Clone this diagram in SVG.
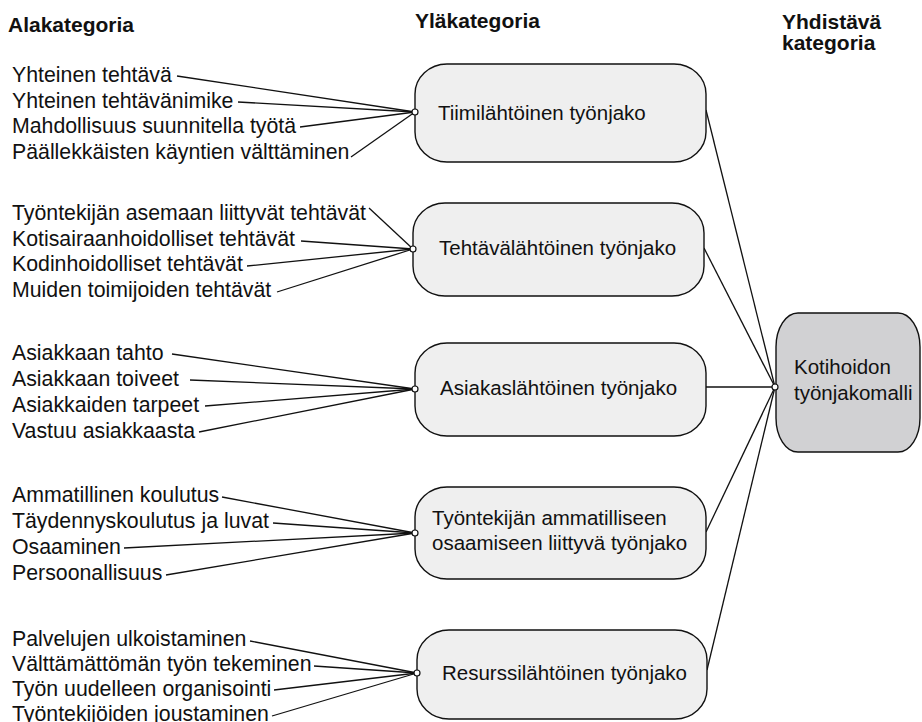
<svg xmlns="http://www.w3.org/2000/svg" width="922" height="722" viewBox="0 0 922 722">
<style>
text{font-family:"Liberation Sans",Arial,sans-serif;font-size:20.5px;fill:#111}
#items text{font-size:21.3px}
.h{font-weight:bold;font-size:21px}
.n{fill:#efefef;stroke:#111;stroke-width:1.4}
.m{fill:#d1d1d3;stroke:#111;stroke-width:1.4}
.c line{stroke:#111;stroke-width:1.3}
.d{fill:#fff;stroke:#111;stroke-width:1.2}
</style>
<rect width="922" height="722" fill="#fff"/>
<g id="headers">
<text class="h" x="8" y="32">Alakategoria</text>
<text class="h" x="415" y="28">Yläkategoria</text>
<text class="h" x="782" y="29">Yhdistävä</text>
<text class="h" x="782" y="50">kategoria</text>
</g>
<g class="c" id="connectors">
<line x1="177" y1="76" x2="415" y2="112"/>
<line x1="238" y1="102" x2="415" y2="112"/>
<line x1="300" y1="127" x2="415" y2="112"/>
<line x1="351" y1="157" x2="415" y2="112"/>
<line x1="369" y1="208" x2="413" y2="249"/>
<line x1="301" y1="241" x2="413" y2="249"/>
<line x1="247" y1="266" x2="413" y2="249"/>
<line x1="277" y1="292" x2="413" y2="249"/>
<line x1="172" y1="354" x2="415" y2="389"/>
<line x1="190" y1="380" x2="415" y2="389"/>
<line x1="205" y1="406" x2="415" y2="389"/>
<line x1="199" y1="432" x2="415" y2="389"/>
<line x1="222" y1="497" x2="415" y2="533"/>
<line x1="273" y1="523" x2="415" y2="533"/>
<line x1="124" y1="548" x2="415" y2="533"/>
<line x1="166" y1="575" x2="415" y2="533"/>
<line x1="250" y1="641" x2="417" y2="673"/>
<line x1="314" y1="666" x2="417" y2="673"/>
<line x1="274" y1="690" x2="417" y2="673"/>
<line x1="272" y1="716" x2="417" y2="673"/>
<line x1="706" y1="110" x2="775" y2="387"/>
<line x1="704" y1="248" x2="775" y2="387"/>
<line x1="706" y1="387" x2="775" y2="387"/>
<line x1="706" y1="532" x2="775" y2="387"/>
<line x1="707" y1="670" x2="775" y2="387"/>
</g>
<g id="items">
<text x="12" y="82">Yhteinen tehtävä</text>
<text x="12" y="108">Yhteinen tehtävänimike</text>
<text x="12" y="133">Mahdollisuus suunnitella työtä</text>
<text x="12" y="159">Päällekkäisten käyntien välttäminen</text>
<text x="12" y="220">Työntekijän asemaan liittyvät tehtävät</text>
<text x="12" y="246">Kotisairaanhoidolliset tehtävät</text>
<text x="12" y="271">Kodinhoidolliset tehtävät</text>
<text x="12" y="297">Muiden toimijoiden tehtävät</text>
<text x="12" y="360">Asiakkaan tahto</text>
<text x="12" y="386">Asiakkaan toiveet</text>
<text x="12" y="412">Asiakkaiden tarpeet</text>
<text x="12" y="438">Vastuu asiakkaasta</text>
<text x="12" y="502">Ammatillinen koulutus</text>
<text x="12" y="528">Täydennyskoulutus ja luvat</text>
<text x="12" y="554">Osaaminen</text>
<text x="12" y="580">Persoonallisuus</text>
<text x="12" y="646">Palvelujen ulkoistaminen</text>
<text x="12" y="671">Välttämättömän työn tekeminen</text>
<text x="12" y="696">Työn uudelleen organisointi</text>
<text x="12" y="721">Työntekijöiden joustaminen</text>
</g>
<g id="n1">
<rect class="n" x="415" y="64" width="291" height="98" rx="32" ry="30"/>
<circle class="d" cx="415" cy="112" r="3"/>
<text x="438" y="120">Tiimilähtöinen työnjako</text>
</g>
<g id="n2">
<rect class="n" x="413" y="203" width="291" height="93" rx="32" ry="30"/>
<circle class="d" cx="413" cy="249" r="3"/>
<text x="439" y="255">Tehtävälähtöinen työnjako</text>
</g>
<g id="n3">
<rect class="n" x="415" y="343" width="291" height="93" rx="32" ry="30"/>
<circle class="d" cx="415" cy="389" r="3"/>
<text x="440" y="395">Asiakaslähtöinen työnjako</text>
</g>
<g id="n4">
<rect class="n" x="415" y="487" width="291" height="92" rx="32" ry="30"/>
<circle class="d" cx="415" cy="533" r="3"/>
<text x="432" y="525">Työntekijän ammatilliseen</text>
<text x="432" y="550">osaamiseen liittyvä työnjako</text>
</g>
<g id="n5">
<rect class="n" x="417" y="630" width="290" height="89" rx="32" ry="30"/>
<circle class="d" cx="417" cy="673" r="3"/>
<text x="442" y="680">Resurssilähtöinen työnjako</text>
</g>
<g id="main">
<rect class="m" x="776" y="313" width="144" height="139" rx="22" ry="34"/>
<circle class="d" cx="775" cy="387" r="3"/>
<text x="794" y="374">Kotihoidon</text>
<text x="794" y="400">työnjakomalli</text>
</g>
</svg>
